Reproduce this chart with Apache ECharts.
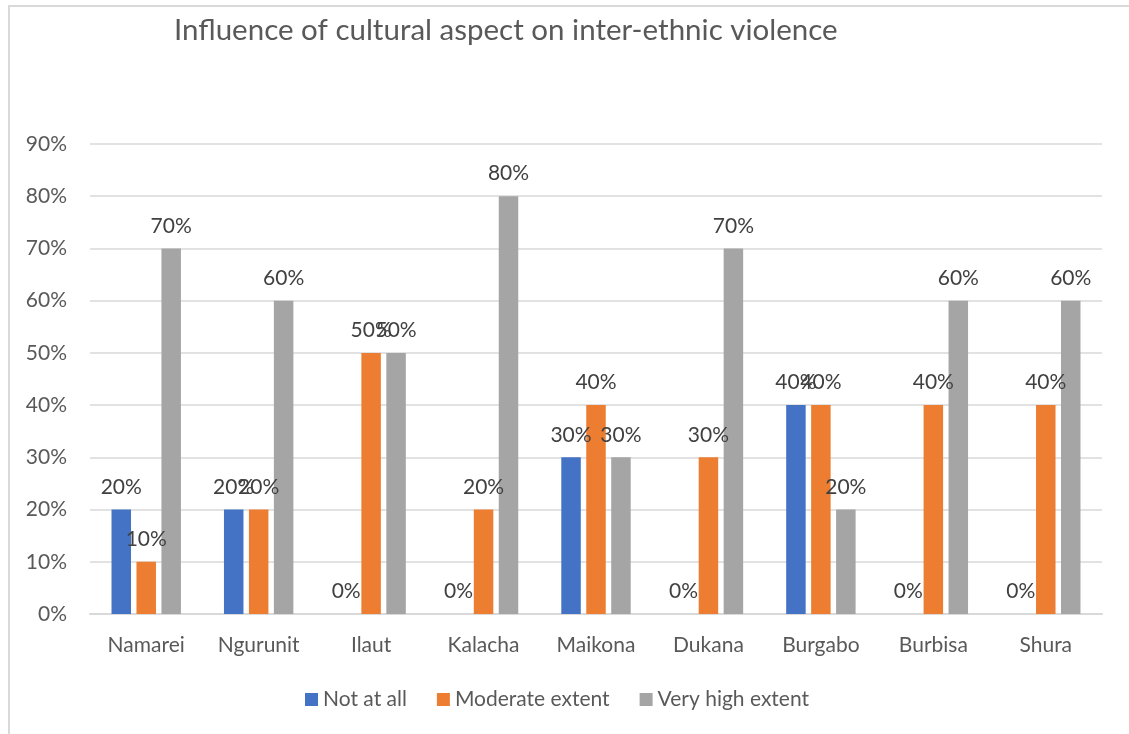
<!DOCTYPE html>
<html>
<head>
<meta charset="utf-8">
<script src="https://cdn.jsdelivr.net/npm/echarts@6/dist/echarts.min.js"></script>
<style>html,body{margin:0;padding:0;background:#fff;}#c{width:1129px;height:734px;}</style>
</head>
<body>
<div id="c"></div>
<script>
const titleText = 'Influence of cultural aspect on inter-ethnic violence';
const categories = ['Namarei','Ngurunit','Ilaut','Kalacha','Maikona','Dukana','Burgabo','Burbisa','Shura'];
const seriesNames = ['Not at all','Moderate extent','Very high extent'];
const notAtAll = [20,20,0,0,30,0,40,0,0];
const moderate = [10,20,50,20,40,30,40,40,40];
const veryHigh = [70,60,50,80,30,70,20,60,60];
const yTicks = [0,10,20,30,40,50,60,70,80,90];

const FONT = 'Lato';
const FS = 21;
const colors = ['#4472C4','#ED7D31','#A5A5A5'];
const chart = echarts.init(document.getElementById('c'));
const lbl = {show:true, position:'top', distance:12, formatter:p=>p.value+'%', color:'#404040', fontSize:FS, fontFamily:FONT};
const mk = (name, data, i) => ({
  name, type:'bar', data, barWidth:19.5, barGap:'28%',
  itemStyle:{color:colors[i]}, label:lbl
});
chart.setOption({
  animation:false,
  textStyle:{fontFamily:FONT},
  title:{text:titleText, left:169, top:10, textStyle:{fontSize:29.5, fontWeight:'normal', color:'#595959', fontFamily:FONT}},
  graphic:[{type:'rect', shape:{x:9, y:6, width:1300, height:900}, style:{fill:'none', stroke:'#D9D9D9', lineWidth:2}, silent:true}],
  grid:{left:90, right:27, top:144, bottom:120},
  legend:{data:seriesNames, top:684, left:300, icon:'rect', itemWidth:13, itemHeight:13, itemGap:30,
    textStyle:{fontSize:FS, color:'#595959', fontFamily:FONT}},
  xAxis:{type:'category', data:categories, axisTick:{show:false},
    axisLine:{lineStyle:{color:'#D9D9D9', width:2}},
    axisLabel:{fontSize:FS, color:'#595959', margin:21, fontFamily:FONT}},
  yAxis:{type:'value', min:yTicks[0], max:yTicks[yTicks.length-1], interval:10,
    axisLine:{show:false}, axisTick:{show:false},
    splitLine:{lineStyle:{color:'#D9D9D9', width:1.5}},
    axisLabel:{formatter:'{value}%', fontSize:FS, color:'#595959', margin:23, fontFamily:FONT}},
  series:[mk(seriesNames[0], notAtAll, 0), mk(seriesNames[1], moderate, 1), mk(seriesNames[2], veryHigh, 2)]
});
</script>
</body>
</html>
